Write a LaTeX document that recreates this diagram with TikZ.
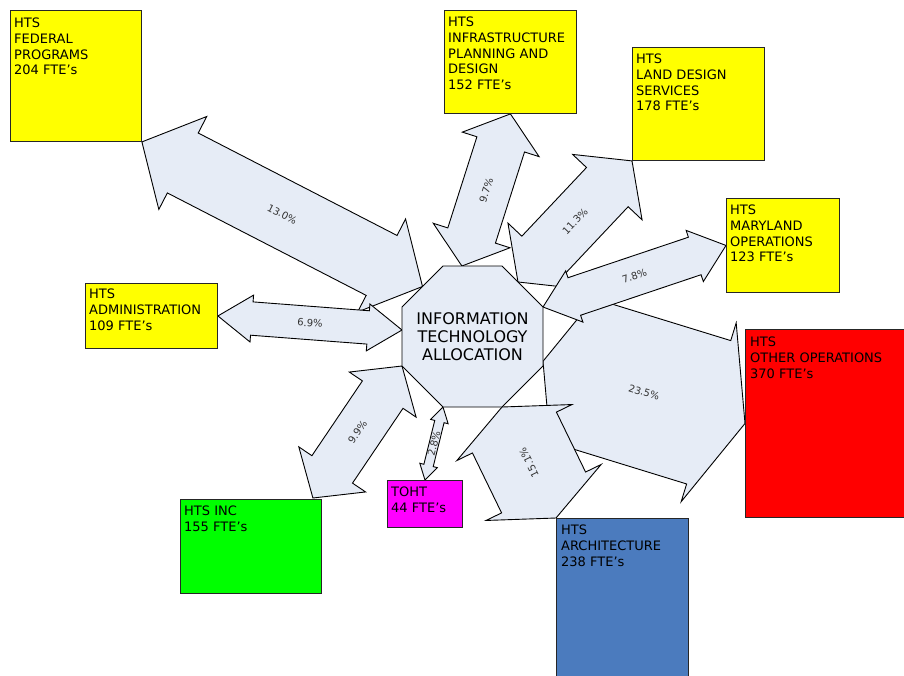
\documentclass[tikz,border=0pt]{standalone}
\usepackage{fontspec}
\setmainfont{DejaVu Sans}
\usetikzlibrary{calc}
\pgfdeclarelayer{flows}
\pgfsetlayers{flows,main}

\definecolor{flowfill}{RGB}{230,236,246}
\definecolor{unityellow}{RGB}{255,255,0}
\definecolor{unitred}{RGB}{255,0,0}
\definecolor{unitgreen}{RGB}{0,255,0}
\definecolor{unitmagenta}{RGB}{255,0,255}
\definecolor{archblue}{RGB}{75,123,190}
\definecolor{labelgray}{RGB}{50,50,50}

\tikzset{
  unitbox/.style={draw=black!85, line width=0.9pt, rectangle, inner sep=0pt, anchor=north west},
  boxtext/.style={anchor=north west, inner sep=0pt, align=left, font=\fontsize{13}{15.7}\selectfont},
  arrowbody/.style={draw=black, fill=flowfill, line width=0.9pt, line join=miter},
  arrowlabel/.style={font=\fontsize{10}{11}\selectfont, text=labelgray, inner sep=0pt},
  hubline/.style={draw=black, fill=flowfill, line width=0.9pt},
  hubtext/.style={inner sep=0pt, align=center, font=\fontsize{16}{18.3}\selectfont}
}

% double-headed block arrow: tips #1 and #2, half shaft width #3,
% half head width #4, head length #5, label #6
\newcommand\blockarrow[6]{%
  \coordinate (ba-p) at ($(#1)!#5!(#2)$);
  \coordinate (ba-q) at ($(#2)!#5!(#1)$);
  \draw[arrowbody] (#1)
    -- ($(ba-p)!#4!90:(#2)$) -- ($(ba-p)!#3!90:(#2)$)
    -- ($(ba-q)!#3!-90:(#1)$) -- ($(ba-q)!#4!-90:(#1)$)
    -- (#2)
    -- ($(ba-q)!#4!90:(#1)$) -- ($(ba-q)!#3!90:(#1)$)
    -- ($(ba-p)!#3!-90:(#2)$) -- ($(ba-p)!#4!-90:(#2)$)
    -- cycle;
  \path (#1) -- (#2) node[midway, sloped, allow upside down, arrowlabel] {#6};
}

\begin{document}
\begin{tikzpicture}[x=1pt, y=-1pt]
\useasboundingbox (0,0) rectangle (904,675);
\clip (0,0) rectangle (904,675);

% business units
\node[unitbox, fill=unityellow, minimum width=131pt, minimum height=131pt] (fed) at (10,10) {};
\node[boxtext] (fed-t) at ($(fed.north west)+(4,8)$) {HTS\\FEDERAL\\PROGRAMS\\204 FTE’s};

\node[unitbox, fill=unityellow, minimum width=132pt, minimum height=103pt] (infra) at (444,10) {};
\node[boxtext] (infra-t) at ($(infra.north west)+(4,7)$) {HTS\\INFRASTRUCTURE\\PLANNING AND\\DESIGN\\152 FTE’s};

\node[unitbox, fill=unityellow, minimum width=132pt, minimum height=113pt] (land) at (632,47) {};
\node[boxtext] (land-t) at ($(land.north west)+(4,7)$) {HTS\\LAND DESIGN\\SERVICES\\178 FTE’s};

\node[unitbox, fill=unityellow, minimum width=113pt, minimum height=94pt] (mary) at (726,198) {};
\node[boxtext] (mary-t) at ($(mary.north west)+(4,7)$) {HTS\\MARYLAND\\OPERATIONS\\123 FTE’s};

\node[unitbox, fill=unitred, minimum width=160pt, minimum height=188pt] (other) at (745,329) {};
\node[boxtext] (other-t) at ($(other.north west)+(5,8)$) {HTS\\OTHER OPERATIONS\\370 FTE’s};

\node[unitbox, fill=archblue, minimum width=132pt, minimum height=170pt] (arch) at (556,518) {};
\node[boxtext] (arch-t) at ($(arch.north west)+(5,7)$) {HTS\\ARCHITECTURE\\238 FTE’s};

\node[unitbox, fill=unitmagenta, minimum width=75pt, minimum height=47pt] (toht) at (387,480) {};
\node[boxtext] (toht-t) at ($(toht.north west)+(4,7)$) {TOHT\\44 FTE’s};

\node[unitbox, fill=unitgreen, minimum width=141pt, minimum height=94pt] (inc) at (180,499) {};
\node[boxtext] (inc-t) at ($(inc.north west)+(4,7)$) {HTS INC\\155 FTE’s};

\node[unitbox, fill=unityellow, minimum width=132pt, minimum height=65pt] (admin) at (85,283) {};
\node[boxtext] (admin-t) at ($(admin.north west)+(4,6)$) {HTS\\ADMINISTRATION\\109 FTE’s};

% central allocation hub: an octagon around the title
\coordinate (hub) at (472.5,336.5);
\coordinate (hn1) at ($(hub)+(-29.5,-70.5)$);
\coordinate (hn2) at ($(hub)+(29.5,-70.5)$);
\coordinate (hn3) at ($(hub)+(70.5,-29.5)$);
\coordinate (hn4) at ($(hub)+(70.5,29.5)$);
\coordinate (hn5) at ($(hub)+(29.5,70.5)$);
\coordinate (hn6) at ($(hub)+(-29.5,70.5)$);
\coordinate (hn7) at ($(hub)+(-70.5,29.5)$);
\coordinate (hn8) at ($(hub)+(-70.5,-29.5)$);
\draw[hubline] (hn1) -- (hn2) -- (hn3) -- (hn4) -- (hn5) -- (hn6) -- (hn7) -- (hn8) -- cycle;
\node[hubtext] (it) at (hub) {INFORMATION\\TECHNOLOGY\\ALLOCATION};

% where the flows meet the hub and the units
\coordinate (t-fed) at ($(hn8)!0.5!(hn1)$);
\coordinate (t-infra) at ($(hn1)!0.32!(hn2)$);
\coordinate (t-land) at ($(hn2)!0.39!(hn3)$);
\coordinate (t-other) at ($(hn3)!0.92!(hn4)$);
\coordinate (t-admin) at ($(hn8)!0.39!(hn7)$);
\coordinate (inc-tip) at ($(inc.north east)+(-9,-1)$);

% allocation flows, behind the hub
\begin{pgfonlayer}{flows}
  \blockarrow{fed.south east}{t-fed}{33.7pt}{52.3pt}{46pt}{13.0\%}
  \blockarrow{t-infra}{infra.south}{25pt}{40.3pt}{32pt}{9.7\%}
  \blockarrow{t-land}{land.south west}{28.6pt}{47.7pt}{36pt}{11.3\%}
  \blockarrow{t-other}{other.west}{75pt}{93.5pt}{38pt}{23.5\%}
  \blockarrow{hn3}{mary.west}{19.8pt}{27pt}{33pt}{7.8\%}
  \blockarrow{admin.east}{t-admin}{16.7pt}{23.5pt}{34pt}{6.9\%}
  \blockarrow{inc-tip}{hn7}{24.5pt}{40.3pt}{34.5pt}{9.9\%}
  \blockarrow{arch.north west}{hn5}{46.7pt}{64pt}{28.4pt}{15.1\%}
  \blockarrow{toht.north}{hn6}{4.8pt}{9pt}{15pt}{2.8\%}
\end{pgfonlayer}
\end{tikzpicture}
\end{document}
